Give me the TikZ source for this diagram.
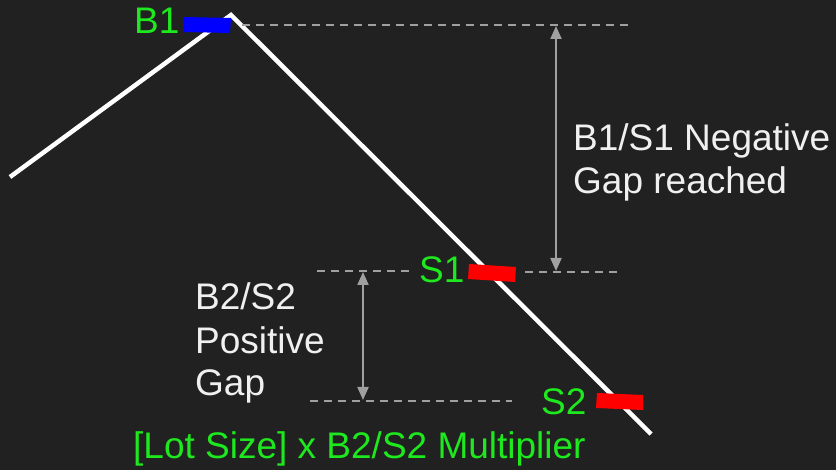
\documentclass[tikz,border=0pt]{standalone}
\usepackage{fontspec}
\setmainfont{Liberation Sans}
\usetikzlibrary{arrows.meta}
\definecolor{bg}{RGB}{33,33,33}
\definecolor{lbl}{RGB}{30,232,30}
\definecolor{guide}{RGB}{160,160,160}
\definecolor{txt}{RGB}{240,240,240}
\tikzset{
  guideline/.style={guide, line width=2pt, dash pattern=on 8pt off 6pt},
  gaparrow/.style={guide, line width=2pt, {Triangle[width=11pt,length=13pt]}-{Triangle[width=11pt,length=13pt]}},
  price/.style={white, line width=4.5pt},
  greenlbl/.style={lbl, font=\fontsize{37}{43}\selectfont, inner sep=0pt, anchor=base west},
  wtxt/.style={txt, font=\fontsize{37}{43}\selectfont, inner sep=0pt, anchor=base west, align=left},
}
\begin{document}
\begin{tikzpicture}[x=1pt,y=-1pt]
\fill[bg] (0,0) rectangle (836,470);
\useasboundingbox (0,0) rectangle (836,470);
% price path
\coordinate (p0) at (10,177);
\coordinate (p1) at (231,15);
\coordinate (p2) at (651,434);
\draw[price] (p0) -- (p1) -- (p2);
% guide lines
\coordinate (g1a) at (242,25);
\coordinate (g1b) at (628,25);
\draw[guideline] (g1a) -- (g1b);
\coordinate (g2a) at (317,271);
\coordinate (g2b) at (410,271);
\draw[guideline] (g2a) -- (g2b);
\coordinate (g3a) at (525,272);
\coordinate (g3b) at (618,272);
\draw[guideline] (g3a) -- (g3b);
\coordinate (g4a) at (310,401);
\coordinate (g4b) at (512,401);
\draw[guideline] (g4a) -- (g4b);
% gap arrows
\coordinate (a1t) at (556,26);
\coordinate (a1b) at (556,271);
\draw[gaparrow] (a1t) -- (a1b);
\coordinate (a2t) at (363,272);
\coordinate (a2b) at (363,400);
\draw[gaparrow] (a2t) -- (a2b);
% order markers
\fill[blue] (184,17) -- (231,18) -- (230,33) -- (184,32) -- cycle;
\fill[red] (469,264) -- (516,267) -- (515,282) -- (468,279) -- cycle;
\fill[red] (597,393) -- (643,395) -- (643,410) -- (596,408) -- cycle;
% labels
\node[greenlbl] (b1) at (134,34) {B1};
\node[greenlbl] (s1) at (419,283) {S1};
\node[greenlbl] (s2) at (541,415) {S2};
\node[wtxt] (neg) at (573,194) {B1/S1 Negative\\Gap reached};
\node[wtxt] (pos) at (195,396) {B2/S2\\Positive\\Gap};
\node[greenlbl] (mult) at (133,458) {[Lot Size] x B2/S2 Multiplier};
\end{tikzpicture}
\end{document}
